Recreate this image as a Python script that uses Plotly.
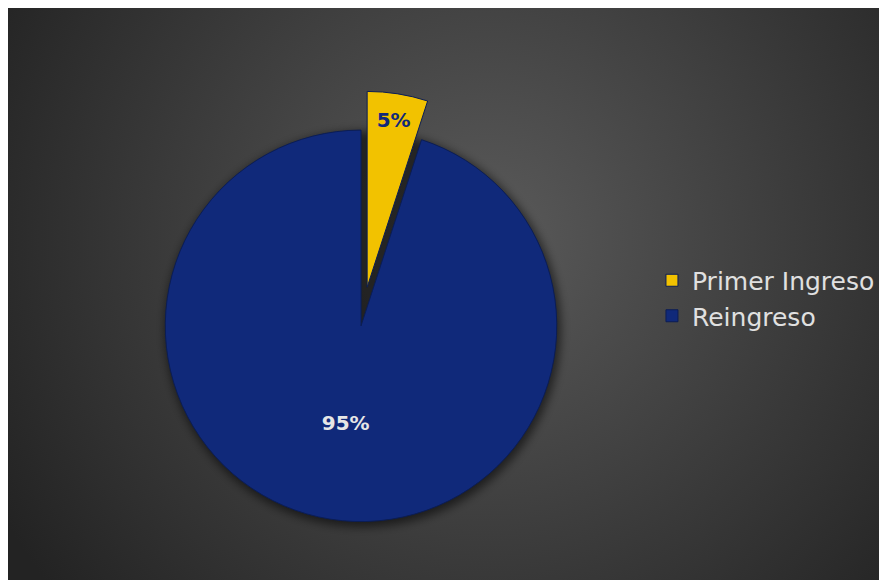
import base64
import plotly.graph_objects as go

labels = ["Primer Ingreso", "Reingreso"]
values = [5, 95]
colors = ["#F2C200", "#10297A"]
pulls = [0.2, 0]
text_colors = ["#10297A", "#E6E6E6"]

W, H = 887, 580

svg = f'''<svg xmlns="http://www.w3.org/2000/svg" width="{W}" height="{H}" viewBox="0 0 {W} {H}" preserveAspectRatio="none">
<defs><radialGradient id="g" gradientUnits="userSpaceOnUse" cx="480" cy="230" r="560">
<stop offset="0" stop-color="#5a5a5a"/><stop offset="1" stop-color="#232323"/></radialGradient>
<filter id="b" x="-20%" y="-20%" width="140%" height="140%"><feGaussianBlur stdDeviation="5"/></filter></defs>
<rect x="0" y="0" width="{W}" height="{H}" fill="url(#g)"/>
<circle cx="355" cy="321" r="198" fill="#000" fill-opacity="0.55" filter="url(#b)"/>
</svg>'''
bg = "data:image/svg+xml;base64," + base64.b64encode(svg.encode()).decode()

fig = go.Figure(go.Pie(
    labels=labels, values=values, sort=False, direction="clockwise", rotation=0,
    pull=pulls,
    marker=dict(colors=colors, line=dict(color="#0b1d55", width=1)),
    texttemplate="%{percent:.0%}", textposition="inside",
    insidetextfont=dict(color=text_colors, size=20, family="DejaVu Sans", weight="bold"),
    domain=dict(x=[0.133, 0.663], y=[0.047, 0.857]),
    hoverinfo="label+percent",
))

fig.update_layout(
    width=W, height=H,
    margin=dict(l=0, r=0, t=0, b=0),
    paper_bgcolor="#262626",
    images=[dict(source=bg, xref="paper", yref="paper", x=0, y=1, sizex=1, sizey=1,
                 xanchor="left", yanchor="top", sizing="stretch", layer="below")],
    showlegend=True,
    legend=dict(x=0.726, y=0.50, xanchor="left", yanchor="middle",
                font=dict(family="DejaVu Sans", size=25, color="#E0E0E0"),
                bgcolor="rgba(0,0,0,0)", itemwidth=30),
)

fig.write_html("out.html")
